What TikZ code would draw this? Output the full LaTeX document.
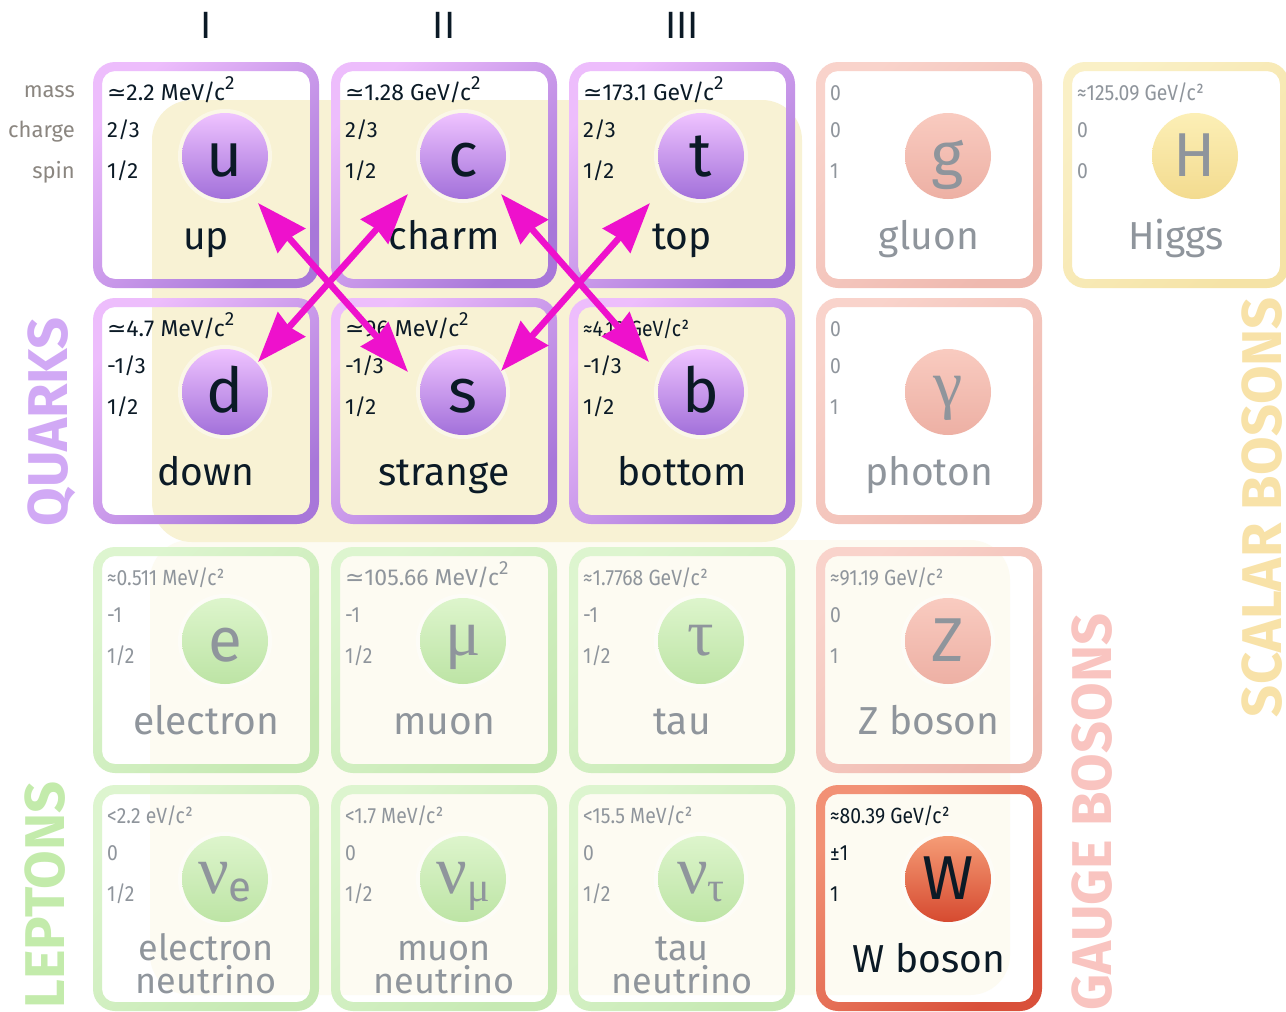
\documentclass[tikz,border=0pt]{standalone}
\usepackage{fontspec}
\setmainfont{Fira Sans}
\newfontfamily\narf[FakeStretch=0.88]{Fira Sans}
\newfontfamily\symf{DejaVu Sans}
\newfontfamily\grf{Liberation Serif}
\usetikzlibrary{arrows.meta,calc}

\definecolor{ink}{HTML}{0B1A26}
\definecolor{fade}{HTML}{8F959C}
\definecolor{side}{HTML}{8B8680}
\definecolor{mag}{HTML}{EE11CC}
\definecolor{blob}{HTML}{F8F2D4}
\definecolor{cream}{HTML}{FDFBF2}
% rings
\definecolor{qL}{HTML}{EDBDFC}\definecolor{qD}{HTML}{A877D9}
\definecolor{lL}{HTML}{DDF5CF}\definecolor{lD}{HTML}{C6E9B3}
\definecolor{gL}{HTML}{F9D3CB}\definecolor{gD}{HTML}{EFB9AF}
\definecolor{hL}{HTML}{FAF0C6}\definecolor{hD}{HTML}{F5E3A6}
\definecolor{wL}{HTML}{F29175}\definecolor{wD}{HTML}{D9503A}
% circles
\definecolor{cqL}{HTML}{EFC3FF}\definecolor{cqD}{HTML}{A270DA}
\definecolor{clL}{HTML}{DDF5CC}\definecolor{clD}{HTML}{BDE4A5}
\definecolor{cgL}{HTML}{F9CBC0}\definecolor{cgD}{HTML}{EDB0A4}
\definecolor{chL}{HTML}{FCEFB6}\definecolor{chD}{HTML}{F3DB8F}
\definecolor{cwL}{HTML}{F59C76}\definecolor{cwD}{HTML}{D64A30}
% text colours per kind
\colorlet{qT}{ink}\colorlet{lT}{fade}\colorlet{gT}{fade}\colorlet{hT}{fade}\colorlet{wT}{ink}
% labels
\definecolor{qlab}{HTML}{D1A9F5}
\definecolor{llab}{HTML}{C3EBAB}
\definecolor{glab}{HTML}{F9C4C0}
\definecolor{hlab}{HTML}{F8E2A8}

\newcommand\fmass{\fontsize{23}{27}\selectfont}
\newcommand\fprop{\fontsize{22}{26}\selectfont}
\newcommand\fname{\fontsize{39}{32}\selectfont}
\newcommand\fcirc{\fontsize{62}{70}\selectfont}
\newcommand\fvlab{\fontsize{56}{60}\selectfont\bfseries}
\newcommand\sq{\raisebox{0.45em}{\fontsize{19}{19}\selectfont 2}}
\newcommand\gsym[1]{\raisebox{6pt}{\fontsize{66}{70}\selectfont\grf #1}}
\newcommand\nusym[1]{\raisebox{6pt}{\fontsize{68}{70}\selectfont\grf ν}{\fontsize{42}{42}\selectfont\raisebox{-2pt}{#1}}}
\newcommand\two[2]{\raisebox{12pt}{\fontsize{36}{33}\selectfont\vtop{\baselineskip=33pt\lineskiplimit=-100pt\halign{\hfil##\hfil\cr #1\cr #2\cr}}}}

\tikzset{
  circ/.style={circle, minimum size=86pt, inner sep=0pt, shading angle=45,
    text height=40pt, text depth=0pt, font=\fcirc},
  masstxt/.style={anchor=base west, inner sep=0pt, font=\fmass},
  proptxt/.style={anchor=base west, inner sep=0pt, font=\fprop},
  propnar/.style={anchor=base west, inner sep=0pt, font=\fprop\narf},
  prop q/.style={proptxt}, prop l/.style={propnar}, prop g/.style={propnar},
  prop h/.style={propnar}, prop w/.style={propnar},
  nametxt/.style={anchor=base, inner sep=0pt, font=\fname},
  sidelab/.style={anchor=base east, inner sep=0pt, font=\fprop, text=side},
  genlab/.style={inner sep=0pt, font=\fontsize{38}{40}\selectfont, text=ink},
  vlab/.style={rotate=90, inner sep=0pt, font=\fvlab, text height=39pt, text depth=0pt},
  qarrow/.style={draw=mag, line width=6.5pt,
    {Stealth[length=50pt,width=36pt,inset=3pt]}-{Stealth[length=50pt,width=36pt,inset=3pt]}},
}

% #1 cx, #2 cy, #3 kind, #4 id, #5 symbol, #6 mass, #7 charge, #8 spin, #9 name
\newcommand\particle[9]{%
  \begin{scope}[shift={(#1,#2)}]
    \shade[even odd rule, top color=#3L, bottom color=#3D, shading angle=45, rounded corners=22pt]
      (-113,-113) rectangle (113,113)
      [rounded corners=13pt] (-104,-104) rectangle (104,104);
    \fill[white, opacity=0.45] (19,-19) circle (47);
    \node[circ, top color=c#3L, bottom color=c#3D, text=#3T] (#4) at (19,-19) {#5};
    \node[masstxt, text=#3T] (#4-m) at (-99,-75) {#6};
    \node[prop #3, text=#3T] (#4-q) at (-99,-38) {#7};
    \node[prop #3, text=#3T] (#4-s) at (-99,3) {#8};
    \node[nametxt, text=#3T] (#4-n) at (0,74) {#9};
  \end{scope}}

\begin{document}
\begin{tikzpicture}[x=1pt,y=-1pt]
\useasboundingbox (0,0) rectangle (1286,1012);
\fill[white] (0,0) rectangle (1286,1012);
% background tints
\fill[cream, rounded corners=40pt] (150,540) rectangle (1010,995);
\fill[blob, rounded corners=40pt] (152,100) rectangle (802,542);

% generation labels
\node[genlab] (gen1) at (206,25) {I};
\node[genlab] (gen2) at (444,25) {II};
\node[genlab] (gen3) at (682,25) {III};

% side labels
\node[sidelab] (lmass) at (75,97) {mass};
\node[sidelab] (lcharge) at (75,137) {charge};
\node[sidelab] (lspin) at (75,178) {spin};

% row 1
\particle{206}{175}{q}{u}{u}{{\symf ≃}2.2 MeV/c\sq}{2/3}{1/2}{up}
\particle{444}{175}{q}{c}{c}{{\symf ≃}1.28 GeV/c\sq}{2/3}{1/2}{charm}
\particle{682}{175}{q}{t}{t}{{\symf ≃}173.1 GeV/c\sq}{2/3}{1/2}{top}
\particle{929}{175}{g}{gl}{g}{{\fprop\narf 0}}{0}{1}{gluon}
\particle{1176}{175}{h}{H}{H}{{\fprop\narf ≈125.09 GeV/c²}}{0}{0}{Higgs}
% row 2
\particle{206}{411}{q}{d}{d}{{\symf ≃}4.7 MeV/c\sq}{-1/3}{1/2}{down}
\particle{444}{411}{q}{s}{s}{{\symf ≃}96 MeV/c\sq}{-1/3}{1/2}{strange}
\particle{682}{411}{q}{b}{b}{{\fprop\narf ≈4.18 GeV/c²}}{-1/3}{1/2}{bottom}
\particle{929}{411}{g}{ph}{\gsym{γ}}{{\fprop\narf 0}}{0}{1}{photon}
% row 3
\particle{206}{660}{l}{e}{e}{{\fprop\narf ≈0.511 MeV/c²}}{-1}{1/2}{electron}
\particle{444}{660}{l}{mu}{\gsym{μ}}{{\symf ≃}105.66 MeV/c\sq}{-1}{1/2}{muon}
\particle{682}{660}{l}{tau}{\gsym{τ}}{{\fprop\narf ≈1.7768 GeV/c²}}{-1}{1/2}{tau}
\particle{929}{660}{g}{Z}{Z}{{\fprop\narf ≈91.19 GeV/c²}}{0}{1}{Z boson}
% row 4
\particle{206}{898}{l}{nue}{\nusym{\rmfamily e}}{{\fprop\narf <2.2 eV/c²}}{0}{1/2}{\two{electron}{neutrino}}
\particle{444}{898}{l}{numu}{\nusym{\grf μ}}{{\fprop\narf <1.7 MeV/c²}}{0}{1/2}{\two{muon}{neutrino}}
\particle{682}{898}{l}{nutau}{\nusym{\grf τ}}{{\fprop\narf <15.5 MeV/c²}}{0}{1/2}{\two{tau}{neutrino}}
\particle{929}{898}{w}{W}{W}{{\fprop\narf ≈80.39 GeV/c²}}{±1}{1}{W boson}

% group labels
\node[vlab, text=qlab] (quarks) at (48,422) {QUARKS};
\node[vlab, text=llab] (leptons) at (45,895) {LEPTONS};
\node[vlab, text=glab] (gauge) at (1092,812) {GAUGE BOSONS};
\node[vlab, text=hlab] (scalar) at (1262,507) {SCALAR BOSONS};

% mixing arrows
\draw[qarrow] ($(u)+(33,47)$) -- ($(s)+(-55,-20)$);
\draw[qarrow] ($(c)+(-55,38)$) -- ($(d)+(33,-30)$);
\draw[qarrow] ($(c)+(38,38)$) -- ($(b)+(-52,-30)$);
\draw[qarrow] ($(t)+(-51,47)$) -- ($(s)+(38,-21)$);
\end{tikzpicture}
\end{document}
